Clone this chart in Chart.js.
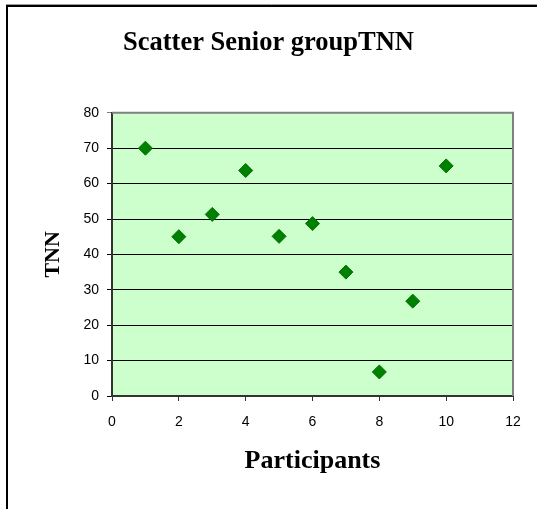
<!DOCTYPE html>
<html>
<head>
<meta charset="utf-8">
<script src="https://cdn.jsdelivr.net/npm/chart.js@4/dist/chart.umd.min.js"></script>
<style>
    html, body { margin: 0; padding: 0; background: #fff; }
    #wrap { width: 537px; height: 509px; position: relative; }
</style>
</head>
<body>
<div id="wrap"><canvas id="scatterChart"></canvas></div>
<script>
// Данные графика
const participants = [1, 2, 3, 4, 5, 6, 7, 8, 9, 10];
const tnnValues = [70, 45, 51.3, 63.7, 45.1, 48.7, 35, 6.8, 26.8, 65];
const xTicks = [0, 2, 4, 6, 8, 10, 12];
const yTicks = [0, 10, 20, 30, 40, 50, 60, 70, 80];

const titleText = 'Scatter Senior groupTNN';
const xTitle = 'Participants';
const yTitle = 'TNN';

// Фон области графика, рамка и рамка всего рисунка
const frame = {
    id: 'frame',
    beforeDraw(chart) {
        const { ctx, chartArea: a } = chart;
        ctx.save();
        ctx.fillStyle = '#CCFFCC';
        ctx.fillRect(a.left, a.top, a.right - a.left, a.bottom - a.top);
        // внешняя рамка
        ctx.strokeStyle = '#999';
        ctx.lineWidth = 1;
        ctx.beginPath();
        ctx.moveTo(6, 4.5);
        ctx.lineTo(chart.width, 4.5);
        ctx.stroke();
        ctx.strokeStyle = '#000';
        ctx.lineWidth = 2;
        ctx.beginPath();
        ctx.moveTo(7, chart.height);
        ctx.lineTo(7, 6);
        ctx.lineTo(chart.width, 6);
        ctx.stroke();
        ctx.restore();
    },
    beforeDatasetsDraw(chart) {
        const { ctx, chartArea: a } = chart;
        ctx.save();
        ctx.strokeStyle = '#808080';
        ctx.lineWidth = 2;
        ctx.beginPath();
        ctx.moveTo(a.left, a.top);
        ctx.lineTo(a.right, a.top);
        ctx.lineTo(a.right, a.bottom);
        ctx.stroke();
        ctx.restore();
    }
};

const ctx = document.getElementById('scatterChart');

new Chart(ctx, {
    type: 'scatter',
    data: {
        datasets: [{
            data: participants.map((x, i) => ({ x: x, y: tnnValues[i] })),
            backgroundColor: '#008000',
            borderColor: '#007000',
            borderWidth: 1,
            pointStyle: 'rectRot',
            pointRadius: 7,
            pointHoverRadius: 7
        }]
    },
    options: {
        responsive: true,
        maintainAspectRatio: false,
        animation: false,
        layout: { padding: 0 },
        plugins: {
            legend: { display: false },
            tooltip: { enabled: false },
            title: {
                display: true,
                text: titleText,
                color: '#000',
                font: { family: '"Liberation Serif", "Times New Roman", serif', size: 26.5, weight: 'bold' },
                padding: { top: 27, bottom: 54 }
            }
        },
        scales: {
            x: {
                type: 'linear',
                min: 0,
                max: 12,
                afterBuildTicks: s => { s.ticks = xTicks.map(v => ({ value: v })); },
                afterFit: s => { s.height = 113; },
                ticks: {
                    color: '#000',
                    padding: 13,
                    font: { family: '"Liberation Sans", Arial, sans-serif', size: 14 }
                },
                grid: {
                    drawOnChartArea: false,
                    color: '#333',
                    tickLength: 5
                },
                border: { color: '#333', width: 2 },
                title: {
                    display: true,
                    text: xTitle,
                    color: '#000',
                    font: { family: '"Liberation Serif", "Times New Roman", serif', size: 26, weight: 'bold' },
                    padding: { top: 0, bottom: 32 }
                }
            },
            y: {
                type: 'linear',
                min: 0,
                max: 80,
                afterBuildTicks: s => { s.ticks = yTicks.map(v => ({ value: v })); },
                afterFit: s => { s.width = 112; },
                ticks: {
                    color: '#000',
                    padding: 8,
                    font: { family: '"Liberation Sans", Arial, sans-serif', size: 14 }
                },
                grid: {
                    color: c => (c.tick && c.tick.value === 80) ? '#808080' : '#000',
                    tickLength: 5
                },
                border: { color: '#333', width: 2 },
                title: {
                    display: true,
                    text: yTitle,
                    color: '#000',
                    font: { family: '"Liberation Serif", "Times New Roman", serif', size: 22, weight: 'bold' },
                    padding: { top: 40, bottom: 0 }
                }
            },
            // пустое место справа от области графика
            yRight: {
                position: 'right',
                min: 0,
                max: 80,
                afterFit: s => { s.width = 24; },
                ticks: { display: false },
                grid: { display: false },
                border: { display: false }
            }
        }
    },
    plugins: [frame]
});
</script>
</body>
</html>
